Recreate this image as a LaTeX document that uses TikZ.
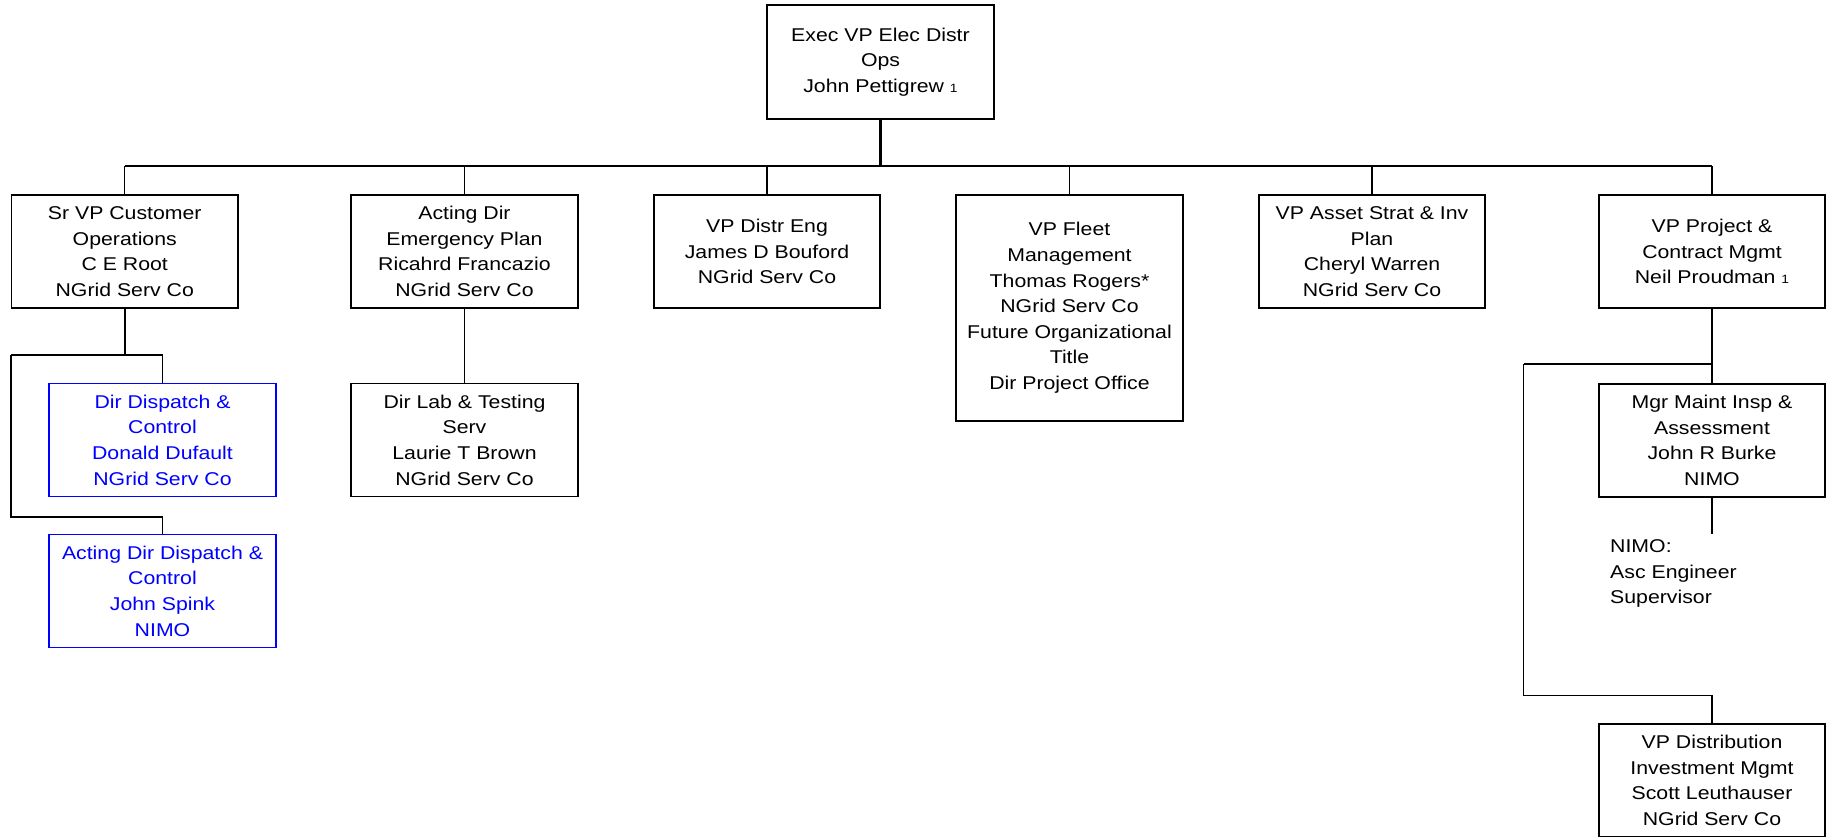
\documentclass[tikz,border=0pt]{standalone}
\usepackage{fontspec}
\setmainfont{Liberation Sans}
\newfontfamily\orgfam[FakeStretch=1.15]{Liberation Sans}
\newcommand\orgfont{\orgfam\fontsize{18.5}{25.6}\selectfont}
\newcommand\orgsmall[1]{{\fontsize{12}{12}\selectfont #1}}
\tikzset{
  orgbox/.style={draw, line width=1.8pt, minimum width=226.5pt, minimum height=113pt,
    inner sep=0pt, align=center, font=\orgfont},
  bluebox/.style={orgbox, draw=blue, text=blue},
  bus/.style={line width=2.2pt},
  conn/.style={line width=1.3pt},
  subconn/.style={line width=1.6pt}
}
\begin{document}
\begin{tikzpicture}[x=1pt,y=-1pt]
\useasboundingbox[fill=white] (0,0) rectangle (1831,836);

\node[orgbox, minimum width=227pt, minimum height=114pt] (top) at (880.5,62) {Exec VP Elec Distr\\Ops\\John Pettigrew \orgsmall{1}};

\node[orgbox] (b1) at (124.75,251.5) {Sr VP Customer\\Operations\\C E Root\\NGrid Serv Co};
\node[orgbox] (b2) at (464.5,251.5) {Acting Dir\\Emergency Plan\\Ricahrd Francazio\\NGrid Serv Co};
\node[orgbox] (b3) at (767,251.5) {VP Distr Eng\\James D Bouford\\NGrid Serv Co};
\node[orgbox, minimum height=226pt] (b4) at (1069.5,308) {VP Fleet\\Management\\Thomas Rogers*\\NGrid Serv Co\\Future Organizational\\Title\\Dir Project Office};
\node[orgbox] (b5) at (1372,251.5) {VP Asset Strat \& Inv\\Plan\\Cheryl Warren\\NGrid Serv Co};
\node[orgbox] (b6) at (1712,251.5) {VP Project \&\\Contract Mgmt\\Neil Proudman \orgsmall{1}};

\node[bluebox] (blue1) at (162.5,440) {Dir Dispatch \&\\Control\\Donald Dufault\\NGrid Serv Co};
\node[bluebox] (blue2) at (162.5,591) {Acting Dir Dispatch \&\\Control\\John Spink\\NIMO};
\node[orgbox] (lab) at (464.5,440) {Dir Lab \& Testing\\Serv\\Laurie T Brown\\NGrid Serv Co};
\node[orgbox] (mgr) at (1712,440.5) {Mgr Maint Insp \&\\Assessment\\John R Burke\\NIMO};
\node[orgbox] (vpd) at (1712,780.5) {VP Distribution\\Investment Mgmt\\Scott Leuthauser\\NGrid Serv Co};

\node[anchor=north west, inner sep=0pt, align=left, font=\orgfont] (nimo) at (1610,539.5) {NIMO:\\Asc Engineer\\Supervisor};

% main bus
\coordinate (busy) at (0,166);
\draw[bus] (top.south) -- (top.south |- busy);
\draw[bus] (b1.north |- busy) -- (b6.north |- busy);
\foreach \n in {b1,b2,b3,b4,b5,b6}
  \draw[conn] (\n.north) -- (\n.north |- busy);

% left branch
\coordinate (h1) at (11,355);
\coordinate (h2) at (11,517);
\draw[subconn] (b1.south) -- (b1.south |- h1);
\draw[subconn] (h1) -- (blue1.north |- h1) -- (blue1.north);
\draw[subconn] (h1) -- (h2) -- (blue2.north |- h2) -- (blue2.north);

% lab
\draw[subconn] (b2.south) -- (lab.north);

% right branch
\coordinate (r1) at (1523.5,364);
\coordinate (r2) at (1523.5,695.5);
\coordinate (mend) at (1712,534);
\draw[subconn] (b6.south) -- (mgr.north);
\draw[subconn] (r1) -- (mgr.north |- r1);
\draw[subconn] (r1) -- (r2) -- (vpd.north |- r2) -- (vpd.north);
\draw[subconn] (mgr.south) -- (mend);
\end{tikzpicture}
\end{document}
